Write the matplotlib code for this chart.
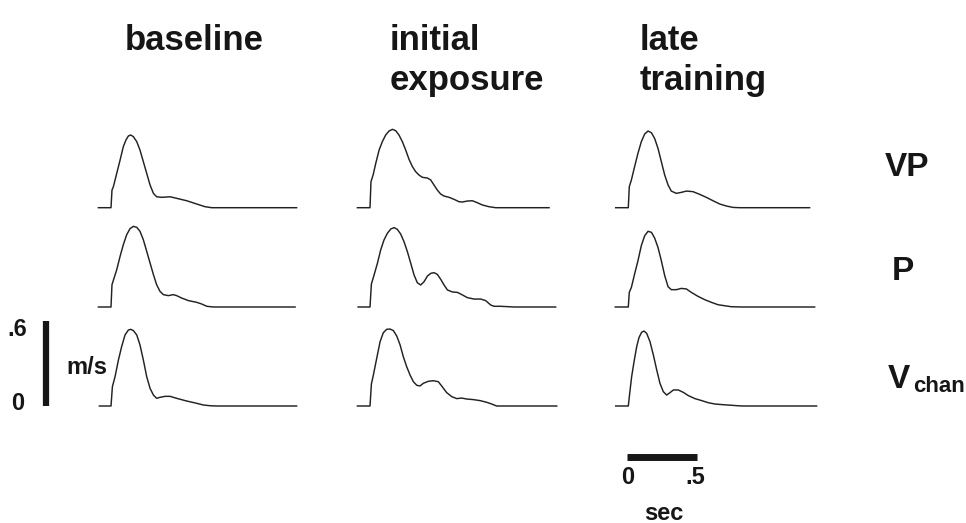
import matplotlib.pyplot as plt

# velocity profiles (m/s) vs time from movement onset (s)
conditions = ['baseline', 'initial\nexposure', 'late\ntraining']
row_labels = ['VP', 'P', 'V']

vp_baseline_t = [-0.095, -0.005, 0.002, 0.012, 0.036, 0.060, 0.083, 0.102, 0.119, 0.136, 0.155,
                 0.179, 0.202, 0.226, 0.250, 0.274, 0.298, 0.321, 0.357, 0.417, 0.464, 0.536,
                 0.607, 0.667, 0.714, 1.321]
vp_baseline_v = [0, 0, 0.124, 0.148, 0.242, 0.336, 0.430, 0.477, 0.505, 0.512, 0.500,
                 0.465, 0.406, 0.324, 0.242, 0.160, 0.101, 0.077, 0.073, 0.077, 0.066, 0.049,
                 0.026, 0.007, 0, 0]

vp_initial_t = [-0.095, -0.005, 0.002, 0.017, 0.036, 0.060, 0.083, 0.107, 0.131, 0.155, 0.179,
                0.202, 0.226, 0.250, 0.274, 0.298, 0.321, 0.345, 0.369, 0.405, 0.429, 0.452,
                0.476, 0.500, 0.524, 0.560, 0.595, 0.631, 0.655, 0.690, 0.726, 0.762, 0.798,
                0.845, 0.893, 1.274]
vp_initial_v = [0, 0, 0.183, 0.230, 0.312, 0.406, 0.465, 0.512, 0.540, 0.552, 0.542,
                0.512, 0.465, 0.406, 0.340, 0.289, 0.254, 0.230, 0.214, 0.209, 0.195, 0.160,
                0.124, 0.096, 0.082, 0.073, 0.059, 0.042, 0.040, 0.047, 0.049, 0.035, 0.019,
                0.007, 0, 0]

vp_late_t = [-0.095, -0.005, 0.002, 0.017, 0.040, 0.064, 0.088, 0.112, 0.136, 0.160, 0.183,
             0.207, 0.231, 0.255, 0.279, 0.302, 0.338, 0.374, 0.410, 0.457, 0.505, 0.552,
             0.600, 0.648, 0.695, 0.743, 0.790, 1.290]
vp_late_v = [0, 0, 0.148, 0.195, 0.289, 0.383, 0.465, 0.519, 0.540, 0.528, 0.488,
             0.418, 0.324, 0.230, 0.160, 0.117, 0.101, 0.108, 0.117, 0.113, 0.094, 0.073,
             0.049, 0.026, 0.012, 0.002, 0, 0]

p_baseline_t = [-0.095, -0.005, 0.002, 0.017, 0.036, 0.060, 0.083, 0.107, 0.131, 0.155, 0.179,
                0.202, 0.226, 0.250, 0.274, 0.298, 0.321, 0.345, 0.369, 0.405, 0.440, 0.464,
                0.500, 0.548, 0.607, 0.643, 0.679, 0.726, 1.310]
p_baseline_v = [0, 0, 0.157, 0.204, 0.263, 0.357, 0.439, 0.509, 0.552, 0.568, 0.561,
                0.533, 0.474, 0.392, 0.310, 0.228, 0.157, 0.110, 0.087, 0.080, 0.087, 0.080,
                0.063, 0.045, 0.033, 0.021, 0.005, 0, 0]

p_initial_t = [-0.090, -0.005, 0.005, 0.024, 0.048, 0.071, 0.095, 0.119, 0.143, 0.167, 0.190,
               0.214, 0.238, 0.262, 0.286, 0.310, 0.333, 0.357, 0.381, 0.405, 0.429, 0.452,
               0.476, 0.500, 0.524, 0.548, 0.583, 0.619, 0.655, 0.690, 0.738, 0.786, 0.821,
               0.857, 0.881, 0.929, 1.024, 1.321]
p_initial_v = [0, 0, 0.162, 0.225, 0.308, 0.401, 0.472, 0.519, 0.549, 0.559, 0.547,
               0.514, 0.460, 0.390, 0.308, 0.225, 0.171, 0.155, 0.178, 0.218, 0.237, 0.242,
               0.230, 0.195, 0.155, 0.120, 0.106, 0.103, 0.085, 0.066, 0.056, 0.056, 0.045,
               0.014, 0.005, 0.005, 0, 0]

p_late_t = [-0.098, -0.005, 0.002, 0.017, 0.040, 0.064, 0.088, 0.112, 0.136, 0.160, 0.183,
            0.207, 0.231, 0.255, 0.279, 0.302, 0.338, 0.374, 0.410, 0.445, 0.493, 0.540,
            0.588, 0.636, 0.683, 0.731, 0.802, 1.326]
p_late_v = [0, 0, 0.103, 0.138, 0.232, 0.326, 0.432, 0.502, 0.533, 0.526, 0.486,
            0.420, 0.326, 0.221, 0.143, 0.122, 0.122, 0.131, 0.127, 0.103, 0.075, 0.052,
            0.033, 0.016, 0.009, 0.002, 0, 0]

vchan_baseline_t = [-0.088, -0.005, 0.005, 0.024, 0.048, 0.071, 0.095, 0.119, 0.136, 0.155, 0.179,
                    0.202, 0.226, 0.250, 0.274, 0.298, 0.321, 0.345, 0.381, 0.417, 0.464, 0.536,
                    0.607, 0.655, 0.702, 0.750, 1.321]
vchan_baseline_v = [0, 0, 0.136, 0.207, 0.324, 0.418, 0.500, 0.535, 0.540, 0.531, 0.500,
                    0.430, 0.324, 0.207, 0.124, 0.077, 0.054, 0.061, 0.068, 0.068, 0.054, 0.035,
                    0.019, 0.007, 0.002, 0, 0]

vchan_initial_t = [-0.095, -0.005, 0.005, 0.019, 0.043, 0.067, 0.090, 0.114, 0.138, 0.162, 0.186,
                   0.210, 0.233, 0.257, 0.281, 0.305, 0.329, 0.352, 0.376, 0.412, 0.448, 0.483,
                   0.507, 0.543, 0.579, 0.614, 0.650, 0.686, 0.733, 0.781, 0.829, 0.864, 0.900,
                   1.329]
vchan_initial_v = [0, 0, 0.155, 0.218, 0.336, 0.453, 0.516, 0.540, 0.542, 0.531, 0.493,
                   0.430, 0.347, 0.277, 0.218, 0.171, 0.146, 0.141, 0.160, 0.174, 0.178, 0.171,
                   0.141, 0.094, 0.066, 0.052, 0.056, 0.049, 0.045, 0.038, 0.026, 0.014, 0,
                   0]

vchan_late_t = [-0.095, -0.005, 0.005, 0.019, 0.038, 0.055, 0.071, 0.090, 0.107, 0.126, 0.150,
                0.174, 0.198, 0.221, 0.245, 0.269, 0.293, 0.317, 0.352, 0.388, 0.424, 0.471,
                0.519, 0.567, 0.614, 0.674, 0.733, 0.805, 1.340]
vchan_late_v = [0, 0, 0.089, 0.207, 0.324, 0.418, 0.481, 0.519, 0.528, 0.512, 0.453,
                0.359, 0.254, 0.160, 0.101, 0.077, 0.094, 0.113, 0.113, 0.096, 0.073, 0.052,
                0.038, 0.023, 0.014, 0.009, 0.005, 0, 0]

traces = [
    [(vp_baseline_t, vp_baseline_v), (vp_initial_t, vp_initial_v), (vp_late_t, vp_late_v)],
    [(p_baseline_t, p_baseline_v), (p_initial_t, p_initial_v), (p_late_t, p_late_v)],
    [(vchan_baseline_t, vchan_baseline_v), (vchan_initial_t, vchan_initial_v),
     (vchan_late_t, vchan_late_v)],
]

scale_v = 0.6   # m/s
scale_t = 0.5   # s

# ---- layout (pixels) ----
W, H = 966, 523
px_per_sec = 140.0
px_per_ms = 142.0
t_min, t_max = -0.1, 1.35
v_min, v_max = 0.0, 0.6
col_onset = [111.7, 370.7, 629.0]
row_base = [207.7, 307.0, 406.0]

plt.rcParams['font.family'] = ['Liberation Sans', 'DejaVu Sans']
plt.rcParams['font.weight'] = 'bold'
ink = '#161616'

fig = plt.figure(figsize=(W / 100, H / 100), dpi=100)


def ftext(x, y, s, **kw):
    fig.text(x / W, 1 - y / H, s, color=ink, fontweight='bold', **kw)


axes = [[None] * 3 for _ in range(3)]
for r in range(3):
    for c in range(3):
        left = col_onset[c] + t_min * px_per_sec
        width = (t_max - t_min) * px_per_sec
        bottom = H - row_base[r]
        height = (v_max - v_min) * px_per_ms
        ax = fig.add_axes([left / W, bottom / H, width / W, height / H])
        ax.set_xlim(t_min, t_max)
        ax.set_ylim(v_min, v_max)
        ax.axis('off')
        t, v = traces[r][c]
        ax.plot(t, v, color='#222222', lw=1.05, solid_joinstyle='round', clip_on=False)
        axes[r][c] = ax

# velocity scale bar next to bottom-left trace
ax = axes[2][0]
xb = (46 - col_onset[0]) / px_per_sec
ax.plot([xb, xb], [0, scale_v], color=ink, lw=4.5, solid_capstyle='butt', clip_on=False)

# time scale bar under bottom-right trace
ax = axes[2][2]
yb = -(457 - row_base[2]) / px_per_ms
ax.plot([-0.015, -0.015 + scale_t], [yb, yb], color=ink, lw=5, solid_capstyle='butt',
        clip_on=False)

# column titles
title_x = [125, 390, 640]
for x, s in zip(title_x, conditions):
    lines = s.split('\n')
    for i, line in enumerate(lines):
        ftext(x, 50 + 40 * i, line, fontsize=25, ha='left', va='baseline')

# row labels
ftext(907, 167, 'VP', fontsize=24, ha='center', va='center')
ftext(903, 271, 'P', fontsize=24, ha='center', va='center')
ftext(888, 388, 'V', fontsize=24, ha='left', va='baseline')
ftext(913, 392, 'chan', fontsize=16, ha='left', va='baseline')

# scale labels
ftext(17, 330, '.6', fontsize=17, ha='center', va='center')
ftext(18, 404, '0', fontsize=17, ha='center', va='center')
ftext(87, 368, 'm/s', fontsize=17, ha='center', va='center')
ftext(628, 477, '0', fontsize=17, ha='center', va='center')
ftext(695, 477, '.5', fontsize=17, ha='center', va='center')
ftext(664, 513, 'sec', fontsize=17, ha='center', va='center')

fig.savefig('out.png', dpi=100)
